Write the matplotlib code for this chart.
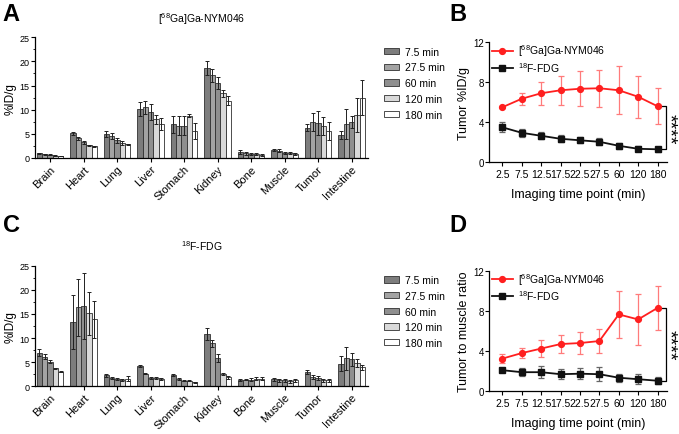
import numpy as np
import matplotlib
matplotlib.use("Agg")
import matplotlib.pyplot as plt
from matplotlib.ticker import MultipleLocator
from matplotlib.lines import Line2D

plt.rcParams['font.family'] = ['Liberation Sans', 'DejaVu Sans']
plt.rcParams['mathtext.fontset'] = 'custom'
plt.rcParams['mathtext.rm'] = 'Liberation Sans'
plt.rcParams['mathtext.it'] = 'Liberation Sans'
plt.rcParams['axes.linewidth'] = 0.9

# ---- data ----
organs = ["Brain", "Heart", "Lung", "Liver", "Stomach", "Kidney", "Bone", "Muscle", "Tumor", "Intestine"]
times_bar = ["7.5 min", "27.5 min", "60 min", "120 min", "180 min"]

# [68Ga]Ga-NYM046 biodistribution (%ID/g), rows = time points, cols = organs
nym_mean = [
    [1.0, 5.1, 4.9, 10.1, 7.0, 18.6, 1.3, 1.65, 6.3, 4.75],
    [0.8, 4.1, 4.5, 10.5, 6.7, 17.1, 1.0, 1.5, 7.4, 7.0],
    [0.7, 3.3, 3.7, 9.5, 6.7, 15.5, 0.9, 1.0, 7.2, 7.4],
    [0.5, 2.6, 3.1, 8.0, 8.8, 13.4, 0.75, 1.0, 6.6, 8.9],
    [0.4, 2.4, 2.8, 7.1, 5.6, 11.9, 0.6, 0.75, 5.6, 12.5],
]
nym_err = [
    [0.1, 0.3, 0.6, 1.4, 1.8, 1.4, 0.4, 0.3, 0.7, 0.8],
    [0.1, 0.3, 0.6, 1.3, 1.9, 1.4, 0.3, 0.3, 1.9, 3.1],
    [0.1, 0.3, 0.5, 1.6, 1.9, 1.2, 0.2, 0.2, 2.5, 1.2],
    [0.05, 0.1, 0.5, 1.0, 0.4, 0.7, 0.2, 0.2, 1.9, 3.5],
    [0.05, 0.1, 0.2, 1.2, 1.6, 0.9, 0.2, 0.2, 1.8, 3.6],
]

# 18F-FDG biodistribution (%ID/g)
fdg_mean = [
    [7.0, 13.4, 2.3, 4.2, 2.3, 10.8, 1.25, 1.45, 3.0, 4.7],
    [6.1, 16.4, 1.7, 2.6, 1.6, 8.9, 1.4, 1.2, 2.0, 5.8],
    [5.1, 16.6, 1.5, 1.8, 1.1, 5.8, 1.4, 1.2, 1.7, 5.6],
    [3.7, 15.1, 1.3, 1.8, 1.1, 2.6, 1.6, 1.0, 1.25, 4.8],
    [3.0, 13.9, 1.6, 1.6, 0.8, 1.9, 1.6, 1.25, 1.25, 3.9],
]
fdg_err = [
    [0.8, 5.6, 0.3, 0.2, 0.2, 1.2, 0.2, 0.3, 0.4, 1.5],
    [0.5, 5.9, 0.2, 0.1, 0.2, 0.7, 0.2, 0.4, 0.4, 2.4],
    [0.3, 6.9, 0.3, 0.2, 0.1, 0.8, 0.3, 0.3, 0.4, 1.3],
    [0.1, 4.4, 0.3, 0.2, 0.1, 0.2, 0.3, 0.3, 0.3, 0.8],
    [0.1, 3.8, 0.6, 0.2, 0.1, 0.3, 0.3, 0.3, 0.3, 0.6],
]

time_labels = ["2.5", "7.5", "12.5", "17.5", "22.5", "27.5", "60", "120", "180"]

tumor_nym = [5.5, 6.35, 6.9, 7.2, 7.35, 7.4, 7.2, 6.55, 5.6]
tumor_nym_err = [0.1, 0.6, 1.15, 1.45, 1.75, 1.85, 2.4, 2.1, 1.8]
tumor_fdg = [3.5, 2.95, 2.65, 2.35, 2.2, 2.05, 1.65, 1.35, 1.3]
tumor_fdg_err = [0.5, 0.4, 0.35, 0.35, 0.3, 0.35, 0.3, 0.25, 0.25]

ratio_nym = [3.25, 3.8, 4.25, 4.7, 4.8, 5.0, 7.65, 7.15, 8.3]
ratio_nym_err = [0.45, 0.5, 0.85, 0.9, 1.05, 1.2, 2.3, 2.5, 2.2]
ratio_fdg = [2.1, 1.9, 1.9, 1.7, 1.75, 1.7, 1.35, 1.2, 1.05]
ratio_fdg_err = [0.15, 0.4, 0.6, 0.5, 0.55, 0.7, 0.4, 0.5, 0.35]

bar_colors = ["#7d7d7d", "#a3a3a3", "#8f8f8f", "#d9d9d9", "#ffffff"]
nym_label = "[$^{68}$Ga]Ga-NYM046"
fdg_label = "$^{18}$F-FDG"

fig = plt.figure(figsize=(6.79, 4.35), dpi=100)


def bar_panel(ax, means, errs, title):
    x = np.arange(len(organs))
    w = 0.16
    for i in range(len(times_bar)):
        ax.bar(x + (i - 2) * w, means[i], w, yerr=errs[i], color=bar_colors[i],
               edgecolor="#303030", linewidth=0.6, label=times_bar[i],
               error_kw=dict(ecolor="#202020", elinewidth=0.7, capsize=1.3, capthick=0.7))
    ax.set_xlim(-0.45, 9.49)
    ax.set_ylim(0, 25)
    ax.set_xticks(x)
    ax.set_xticklabels(organs, rotation=45, ha="right", rotation_mode="anchor", fontsize=8)
    ax.yaxis.set_major_locator(MultipleLocator(5))
    ax.yaxis.set_minor_locator(MultipleLocator(2.5))
    ax.tick_params(axis="y", labelsize=6.5, length=3, width=0.8, pad=1)
    ax.tick_params(axis="y", which="minor", length=1.8, width=0.6)
    ax.tick_params(axis="x", length=3, width=0.8, pad=1)
    ax.set_ylabel("%ID/g", fontsize=8.5, labelpad=2)
    ax.spines["top"].set_visible(False)
    ax.spines["right"].set_visible(False)
    ax.set_title(title, fontsize=7.5, pad=11)
    ax.legend(loc="upper left", bbox_to_anchor=(1.02, 1.0), frameon=False, fontsize=7.5,
              handlelength=1.4, handleheight=0.55, labelspacing=0.55, handletextpad=0.6)


def line_panel(ax, m1, e1, m2, e2, ylabel):
    x = np.arange(len(time_labels))
    ax.errorbar(x, m1, yerr=e1, color="#ff1f1f", ecolor="#ff7b7b", elinewidth=0.9, capsize=2.5,
                capthick=0.9, marker="o", markersize=4.2, linewidth=1.3)
    ax.errorbar(x, m2, yerr=e2, color="#111111", ecolor="#666666", elinewidth=0.9, capsize=2.5,
                capthick=0.9, marker="s", markersize=4.0, linewidth=1.3)
    ax.set_xlim(-0.67, 8.47)
    ax.set_ylim(0, 12)
    ax.set_xticks(x)
    ax.set_xticklabels(time_labels, fontsize=7.5)
    ax.set_yticks([0, 4, 8, 12])
    ax.tick_params(axis="y", labelsize=7, length=3, width=0.8, pad=1)
    ax.tick_params(axis="x", length=3, width=0.8, pad=2)
    ax.set_ylabel(ylabel, fontsize=9, labelpad=2)
    ax.set_xlabel("Imaging time point (min)", fontsize=9, labelpad=6)
    ax.spines["top"].set_visible(False)
    ax.spines["right"].set_visible(False)
    handles = [Line2D([], [], color="#ff1f1f", marker="o", markersize=4.2, linewidth=1.3),
               Line2D([], [], color="#111111", marker="s", markersize=4.0, linewidth=1.3)]
    ax.legend(handles, [nym_label, fdg_label], loc="upper left", bbox_to_anchor=(-0.02, 1.05),
              frameon=False, fontsize=7.5, handlelength=2.0, labelspacing=0.15,
              handletextpad=0.5, borderaxespad=0.2)
    # significance bracket
    y_top, y_bot = m1[-1], m2[-1]
    xb = x[-1] + 0.45
    ax.plot([xb - 0.3, xb, xb, xb - 0.3], [y_top, y_top, y_bot, y_bot], color="black",
            linewidth=0.9, clip_on=False)
    ax.text(xb + 0.1, (y_top + y_bot) / 2, "****", rotation=-90, ha="center", va="center",
            fontsize=14, clip_on=False)


axA = fig.add_axes([0.0515, 0.6345, 0.4905, 0.2775])
bar_panel(axA, nym_mean, nym_err, nym_label)
axC = fig.add_axes([0.0515, 0.1097, 0.4905, 0.2772])
bar_panel(axC, fdg_mean, fdg_err, fdg_label)

axB = fig.add_axes([0.7206, 0.6246, 0.2613, 0.276])
line_panel(axB, tumor_nym, tumor_nym_err, tumor_fdg, tumor_fdg_err, "Tumor %ID/g")
axD = fig.add_axes([0.7206, 0.0982, 0.2613, 0.2772])
line_panel(axD, ratio_nym, ratio_nym_err, ratio_fdg, ratio_fdg_err, "Tumor to muscle ratio")

for lbl, xx, yy in [("A", 0.004, 0.993), ("B", 0.662, 0.993), ("C", 0.004, 0.507), ("D", 0.662, 0.507)]:
    fig.text(xx, yy, lbl, fontsize=17, fontweight="bold", ha="left", va="top")

fig.savefig("out.png", dpi=100)
